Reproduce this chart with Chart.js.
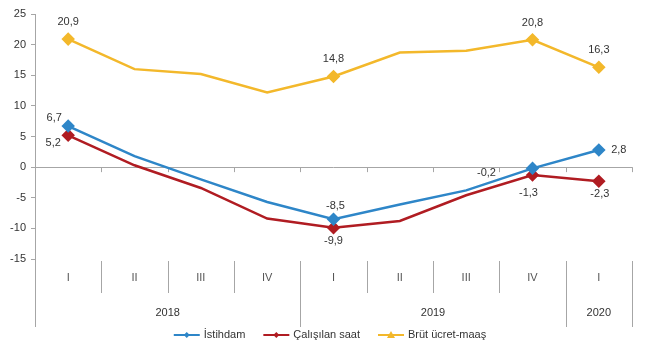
<!DOCTYPE html>
<html>
<head>
<meta charset="utf-8">
<script src="https://cdn.jsdelivr.net/npm/chart.js@4.4.0/dist/chart.umd.min.js"></script>
<style>
  html, body { margin: 0; padding: 0; background: #fff; }
  #wrap { width: 650px; height: 360px; }
</style>
</head>
<body>
<div id="wrap"><canvas id="chart" width="650" height="360"></canvas></div>
<script>
const quarters = ['I', 'II', 'III', 'IV', 'I', 'II', 'III', 'IV', 'I'];
const years = ['2018', '2019', '2020'];
const yearSpans = [4, 4, 1];
const istihdam = [6.7, 1.8, -2.0, -5.7, -8.5, -6.1, -3.8, -0.2, 2.8];
const calisilanSaat = [5.2, 0.3, -3.4, -8.4, -9.9, -8.8, -4.6, -1.3, -2.3];
const brutUcret = [20.9, 16.0, 15.2, 12.2, 14.8, 18.7, 19.0, 20.8, 16.3];
const yTicks = [25, 20, 15, 10, 5, 0, -5, -10, -15];
const labelled = [0, 4, 7, 8]; // points that get a marker and a value

const FONT = 'Arial, "Liberation Sans", sans-serif';
const TEXT = '#333333';
const AXIS = '#a6a6a6';

// where each value label sits relative to its point (dx, dy)
const labelOffsets = [
    { 0: [-14, -8], 4: [2, -13], 7: [-46, 5], 8: [20, 0] },
    { 0: [-15, 8], 4: [0, 13], 7: [-4, 18], 8: [1, 13] },
    { 0: [0, -17], 4: [0, -18], 7: [0, -17], 8: [0, -17] }
];

function radii(r) {
    return quarters.map((q, i) => labelled.includes(i) ? r : 0);
}

function fmt(v) {
    return v.toFixed(1).replace('.', ',');
}

const extras = {
    id: 'extras',
    beforeDatasetsDraw(chart) {
        const ctx = chart.ctx;
        const area = chart.chartArea;
        const xs = chart.scales.x;
        const y0 = chart.scales.y.getPixelForValue(0);
        const step = (area.right - area.left) / quarters.length;
        ctx.save();
        ctx.strokeStyle = AXIS;
        ctx.lineWidth = 1;
        ctx.beginPath();
        ctx.moveTo(area.left, Math.round(y0) + 0.5);
        ctx.lineTo(area.right, Math.round(y0) + 0.5);
        for (let k = 1; k <= quarters.length; k++) {
            const bx = Math.round(xs.getPixelForValue(k - 1) + step / 2) + 0.5;
            ctx.moveTo(bx, y0);
            ctx.lineTo(bx, y0 + 5);
        }
        ctx.stroke();
        ctx.restore();
    },
    afterDraw(chart) {
        const ctx = chart.ctx;
        const area = chart.chartArea;
        const xs = chart.scales.x;
        const step = (area.right - area.left) / quarters.length;
        const bottom = 327;
        ctx.save();

        // category structure below the plot
        ctx.strokeStyle = AXIS;
        ctx.lineWidth = 1;
        ctx.beginPath();
        const lx = Math.round(area.left) + 0.5;
        ctx.moveTo(lx, area.bottom);
        ctx.lineTo(lx, bottom);
        let acc = 0;
        const yearEnds = yearSpans.map(s => (acc += s));
        for (let k = 1; k <= quarters.length; k++) {
            const bx = Math.round(xs.getPixelForValue(k - 1) + step / 2) + 0.5;
            ctx.moveTo(bx, area.bottom + 2);
            ctx.lineTo(bx, yearEnds.includes(k) ? bottom : area.bottom + 34);
        }
        ctx.stroke();

        ctx.font = '11px ' + FONT;
        ctx.textAlign = 'center';
        ctx.textBaseline = 'middle';
        ctx.fillStyle = '#555555';
        quarters.forEach((q, i) => {
            ctx.fillText(q, xs.getPixelForValue(i), area.bottom + 19);
        });
        ctx.fillStyle = TEXT;
        let start = 0;
        years.forEach((yr, j) => {
            const end = start + yearSpans[j] - 1;
            const cx = (xs.getPixelForValue(start) + xs.getPixelForValue(end)) / 2;
            ctx.fillText(yr, cx, area.bottom + 54);
            start = end + 1;
        });

        // value labels
        chart.data.datasets.forEach((ds, d) => {
            const meta = chart.getDatasetMeta(d);
            labelled.forEach(i => {
                const pt = meta.data[i];
                const off = labelOffsets[d][i];
                ctx.fillStyle = TEXT;
                ctx.fillText(fmt(ds.data[i]), pt.x + off[0], pt.y + off[1]);
            });
        });

        // legend
        const items = chart.data.datasets.map(ds => ({
            text: ds.label, color: ds.borderColor,
            w: 26 + 4 + ctx.measureText(ds.label).width
        }));
        const gap = 18;
        const total = items.reduce((s, it) => s + it.w, 0) + gap * (items.length - 1);
        let x = 330 - total / 2;
        const ly = 335;
        ctx.textAlign = 'left';
        items.forEach((it, j) => {
            ctx.strokeStyle = it.color;
            ctx.fillStyle = it.color;
            ctx.lineWidth = 2;
            ctx.beginPath();
            ctx.moveTo(x, ly);
            ctx.lineTo(x + 26, ly);
            ctx.stroke();
            const mx = x + 13;
            ctx.beginPath();
            if (j === 2) {
                ctx.moveTo(mx, ly - 4);
                ctx.lineTo(mx + 4, ly + 3);
                ctx.lineTo(mx - 4, ly + 3);
            } else {
                ctx.moveTo(mx, ly - 3);
                ctx.lineTo(mx + 3, ly);
                ctx.lineTo(mx, ly + 3);
                ctx.lineTo(mx - 3, ly);
            }
            ctx.closePath();
            ctx.fill();
            ctx.fillStyle = TEXT;
            ctx.fillText(it.text, x + 30, ly);
            x += it.w + gap;
        });
        ctx.restore();
    }
};

function series(label, data, color) {
    return {
        label: label,
        data: data,
        borderColor: color,
        backgroundColor: color,
        borderWidth: 2.5,
        pointStyle: 'rectRot',
        pointRadius: radii(5),
        pointHoverRadius: radii(5),
        tension: 0
    };
}

new Chart(document.getElementById('chart').getContext('2d'), {
    type: 'line',
    data: {
        labels: quarters.map((q, i) => q + '-' + i),
        datasets: [
            series('İstihdam', istihdam, '#2e86c8'),
            series('Çalışılan saat', calisilanSaat, '#b01c22'),
            series('Brüt ücret-maaş', brutUcret, '#f3b82b')
        ]
    },
    options: {
        responsive: false,
        animation: false,
        events: [],
        layout: { padding: { top: 14, bottom: 101, left: 0, right: 18 } },
        plugins: {
            legend: { display: false },
            tooltip: { enabled: false }
        },
        scales: {
            x: { display: false, offset: true },
            y: {
                min: -15,
                max: 25,
                afterFit: scale => { scale.width = 35; },
                afterBuildTicks: scale => { scale.ticks = yTicks.map(v => ({ value: v })); },
                grid: { drawOnChartArea: false, tickLength: 4, color: AXIS },
                border: { color: AXIS },
                ticks: {
                    color: TEXT,
                    padding: 5,
                    font: { family: FONT, size: 11 }
                }
            }
        }
    },
    plugins: [extras]
});
</script>
</body>
</html>
